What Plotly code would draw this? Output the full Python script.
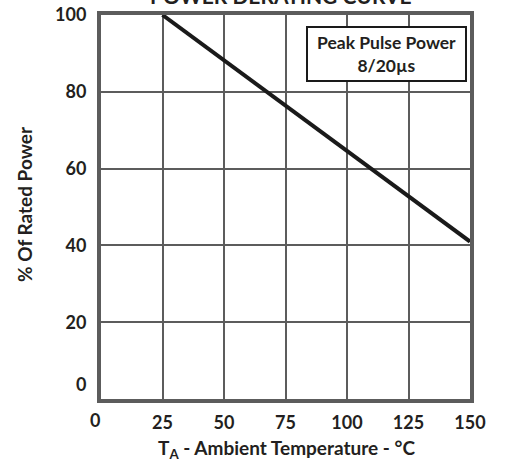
import plotly.graph_objects as go

temps = [25, 150]
power = [100, 41]
x_ticks = [0, 25, 50, 75, 100, 125, 150]
y_ticks = [0, 20, 40, 60, 80, 100]
title_text = "POWER DERATING CURVE"
legend_lines = ["Peak Pulse Power", "8/20µs"]
x_title = "T<sub>A</sub> - Ambient Temperature - °C"
y_title = "% Of Rated Power"

FONT = "Lato"
TXT = "#231f20"
GRID = "#5c5c5c"

fig = go.Figure()
fig.add_trace(go.Scatter(x=temps, y=power, mode="lines",
                         line=dict(color="#1a1a1a", width=4),
                         cliponaxis=False, showlegend=False, hoverinfo="skip"))

L, R, T, B = 101, 36, 15, 65
W, H = 506, 464
pw, ph = W - L - R, H - T - B

def px_to_paper_x(px):
    return (px - L) / pw

def px_to_paper_y(py):
    return (H - B - py) / ph

fig.update_layout(
    width=W, height=H,
    margin=dict(l=L, r=R, t=T, b=B, autoexpand=False),
    paper_bgcolor="white", plot_bgcolor="white",
    font=dict(family=FONT, color=TXT),
    showlegend=False,
)
# the zero ticks are drawn separately (offset as in the reference)
xt = [v for v in x_ticks if v != 0]
yt = [v for v in y_ticks if v != 0]
fig.update_xaxes(range=[0, 150], tickvals=xt,
                 ticktext=[f"<b>{v}</b>" for v in xt],
                 showgrid=True, gridcolor=GRID, gridwidth=2,
                 showline=True, linecolor=GRID, linewidth=4, mirror=True,
                 zeroline=False, ticks="", ticklabelstandoff=4, automargin=False,
                 tickfont=dict(size=18, family=FONT, color=TXT))
fig.update_yaxes(range=[0, 100], tickvals=yt,
                 ticktext=[f"<b>{v}</b>" for v in yt],
                 showgrid=True, gridcolor=GRID, gridwidth=2,
                 showline=True, linecolor=GRID, linewidth=4, mirror=True,
                 zeroline=False, ticks="", ticklabelstandoff=7, automargin=False,
                 tickfont=dict(size=18, family=FONT, color=TXT))

annos = []
annos.append(dict(x=px_to_paper_x(95), y=px_to_paper_y(420), xref="paper", yref="paper",
                  text=f"<b>{x_ticks[0]}</b>", showarrow=False, font=dict(size=18, color=TXT),
                  xanchor="center", yanchor="middle"))
annos.append(dict(x=px_to_paper_x(88), y=px_to_paper_y(384), xref="paper", yref="paper",
                  text=f"<b>{y_ticks[0]}</b>", showarrow=False, font=dict(size=18, color=TXT),
                  xanchor="right", yanchor="middle"))
annos.append(dict(x=px_to_paper_x(281), y=px_to_paper_y(-4), xref="paper", yref="paper",
                  text=f"<b>{title_text}</b>", showarrow=False, font=dict(size=21, color=TXT),
                  xanchor="center", yanchor="middle"))
annos.append(dict(x=px_to_paper_x(286), y=px_to_paper_y(449), xref="paper", yref="paper",
                  text=f"<b>{x_title}</b>", showarrow=False, font=dict(size=19, color=TXT),
                  xanchor="center", yanchor="middle"))
annos.append(dict(x=px_to_paper_x(24), y=px_to_paper_y(204), xref="paper", yref="paper",
                  text=f"<b>{y_title}</b>", showarrow=False, font=dict(size=19, color=TXT),
                  textangle=-90, xanchor="center", yanchor="middle"))
annos.append(dict(x=px_to_paper_x(386.5), y=px_to_paper_y(54), xref="paper", yref="paper",
                  text="<br>".join(f"<b>{t}</b>" for t in legend_lines), showarrow=False,
                  font=dict(size=17.5, color=TXT), xanchor="center", yanchor="middle"))
fig.update_layout(annotations=annos)

fig.add_shape(type="rect", xref="paper", yref="paper",
              x0=px_to_paper_x(307), x1=px_to_paper_x(466),
              y0=px_to_paper_y(81), y1=px_to_paper_y(27),
              line=dict(color="#1a1a1a", width=2), fillcolor="white", layer="above")

fig.write_html("out.html", config={"displayModeBar": False},
               post_script="document.body.style.margin='0px';")
